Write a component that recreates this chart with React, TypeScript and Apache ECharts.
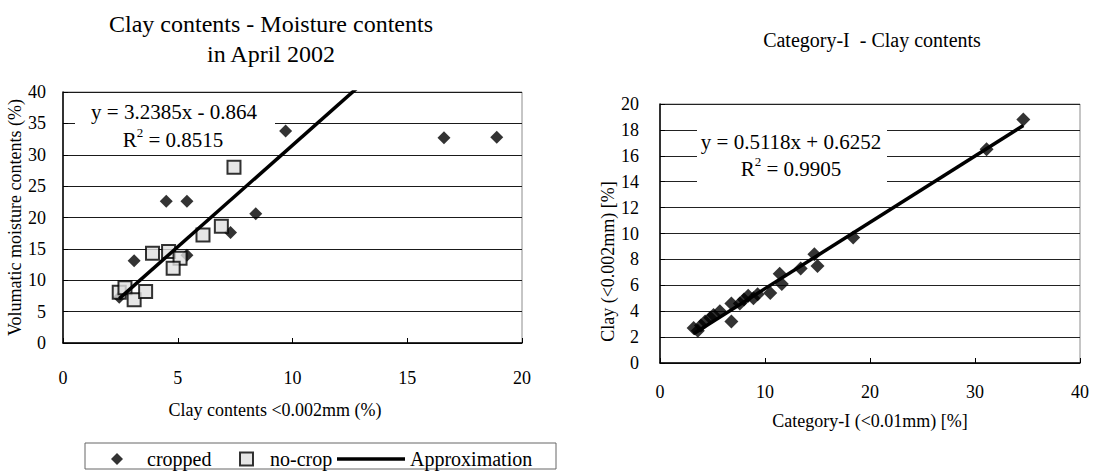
import React, { useEffect, useRef } from "react";
import * as echarts from "echarts";

// ---- Left chart data: clay contents (%) vs volumetric moisture (%) ----
const croppedClay = [9.7, 4.5, 5.4, 8.4, 7.3, 3.1, 5.4, 2.45, 16.6, 18.9];
const croppedMoisture = [33.8, 22.6, 22.6, 20.6, 17.6, 13.1, 14.0, 7.3, 32.7, 32.8];
const noCropClay = [7.45, 6.9, 6.1, 3.9, 4.6, 5.1, 4.8, 2.45, 2.7, 3.1, 3.6];
const noCropMoisture = [28.0, 18.6, 17.2, 14.3, 14.6, 13.5, 11.9, 8.1, 8.8, 6.9, 8.2];
const leftTrend = [3.2385, -0.864]; // slope, intercept
const leftR2 = "0.8515";

// ---- Right chart data: Category-I (<0.01mm) vs Clay (<0.002mm) ----
const categoryI = [3.2, 3.6, 3.9, 4.3, 4.8, 5.1, 5.7, 6.8, 6.8, 7.6, 8.0, 8.4, 8.9, 9.3, 10.5, 11.4, 11.6, 13.4, 14.7, 15.0, 18.4, 31.1, 34.6];
const clayFine = [2.7, 2.5, 2.9, 3.2, 3.5, 3.7, 4.0, 3.2, 4.6, 4.6, 4.9, 5.2, 5.0, 5.3, 5.4, 6.9, 6.1, 7.3, 8.4, 7.5, 9.7, 16.5, 18.8];
const rightTrend = [0.5118, 0.6252];
const rightR2 = "0.9905";

const leftTitle = ["Clay contents - Moisture contents", "in April 2002"];
const rightTitle = "Category-I  - Clay contents";

const FONT = "Liberation Serif";

function zip(a: number[], b: number[]) {
  return a.map((v, i) => [v, b[i]]);
}
function trendPoints(xs: number[], coef: number[]) {
  const lo = Math.min(...xs);
  const hi = Math.max(...xs);
  return [lo, hi].map((x) => [x, coef[0] * x + coef[1]]);
}
function eqText(coef: number[]) {
  const sign = coef[1] < 0 ? "-" : "+";
  return `y = ${coef[0]}x ${sign} ${Math.abs(coef[1])}`;
}

export default function App() {
  const ref = useRef<HTMLDivElement>(null);
  useEffect(() => {
    document.body.style.margin = "0";
    const chart = echarts.init(ref.current!, undefined, { renderer: "svg" });
    const txt = { fontFamily: FONT, color: "#000" };
    const axisCommon = {
      type: "value" as const,
      axisLine: { show: true, onZero: false, lineStyle: { color: "#000", width: 1.5 } },
      axisTick: { show: true, inside: true, length: 5, lineStyle: { color: "#000" } },
      axisLabel: { ...txt, fontSize: 18 },
      nameLocation: "middle" as const,
      nameTextStyle: { ...txt, fontSize: 18 },
    };
    const richR = {
      a: { fontFamily: FONT, fontSize: 21, color: "#000", lineHeight: 28 },
      s: { fontFamily: FONT, fontSize: 13, color: "#000", lineHeight: 13, verticalAlign: "top" },
    };
    const legendText = { ...txt, fontSize: 20 };
    chart.setOption({
      animation: false,
      textStyle: { fontFamily: FONT },
      title: [
        {
          text: leftTitle.join("\n"),
          left: 266,
          top: 4,
          textAlign: "center",
          textStyle: { ...txt, fontSize: 24, fontWeight: "normal", lineHeight: 30 },
        },
        {
          text: rightTitle,
          left: 867,
          top: 25,
          textAlign: "center",
          textStyle: { ...txt, fontSize: 20, fontWeight: "normal" },
        },
      ],
      grid: [
        { left: 63, top: 92, width: 459, height: 251, show: true, borderColor: "#8c8c8c", borderWidth: 1 },
        { left: 660, top: 104, width: 420, height: 259, show: true, borderColor: "#8c8c8c", borderWidth: 1 },
      ],
      xAxis: [
        {
          ...axisCommon,
          gridIndex: 0,
          min: 0,
          max: 20,
          interval: 5,
          splitLine: { show: false },
          axisLabel: { ...axisCommon.axisLabel, margin: 26 },
          name: "Clay contents <0.002mm (%)",
          nameGap: 58,
          nameTextStyle: { ...axisCommon.nameTextStyle, padding: [0, 35, 0, 0] },
        },
        {
          ...axisCommon,
          gridIndex: 1,
          min: 0,
          max: 40,
          interval: 10,
          splitLine: { show: false },
          axisLabel: { ...axisCommon.axisLabel, margin: 20 },
          name: "Category-I (<0.01mm) [%]",
          nameGap: 49,
        },
      ],
      yAxis: [
        {
          ...axisCommon,
          gridIndex: 0,
          min: 0,
          max: 40,
          interval: 5,
          splitLine: { show: true, lineStyle: { color: "#1a1a1a", width: 1 } },
          axisLabel: { ...axisCommon.axisLabel, margin: 17 },
          name: "Volumatic moisture contents (%)",
          nameGap: 27,
          nameRotate: 90,
        },
        {
          ...axisCommon,
          gridIndex: 1,
          min: 0,
          max: 20,
          interval: 2,
          splitLine: { show: true, lineStyle: { color: "#222", width: 1 } },
          axisLabel: { ...axisCommon.axisLabel, margin: 21 },
          name: "Clay (<0.002mm) [%]",
          nameGap: 40,
          nameRotate: 90,
          nameTextStyle: { ...axisCommon.nameTextStyle, padding: [0, 56, 0, 0] },
        },
      ],
      legend: [
        {
          data: [{ name: "cropped", icon: "diamond" }],
          left: 106,
          top: 444,
          itemWidth: 12,
          itemHeight: 12,
          selectedMode: false,
          textStyle: { ...legendText, padding: [0, 0, 0, 19] },
        },
        {
          data: [{ name: "no-crop", icon: "rect" }],
          left: 234,
          top: 444,
          itemWidth: 13,
          itemHeight: 13,
          selectedMode: false,
          textStyle: { ...legendText, padding: [0, 0, 0, 12] },
        },
        {
          data: [{ name: "Approximation", icon: "rect" }],
          left: 332,
          top: 444,
          itemWidth: 68,
          itemHeight: 3.5,
          selectedMode: false,
          textStyle: legendText,
        },
      ],
      graphic: [
        {
          type: "rect",
          shape: { x: 85, y: 443, width: 471, height: 26 },
          style: { fill: "none", stroke: "#666", lineWidth: 1 },
        },
        {
          type: "rect",
          z: 5,
          shape: { x: 75, y: 97, width: 200, height: 55 },
          style: { fill: "#fff" },
        },
        {
          type: "text",
          z: 6,
          x: 174,
          y: 112,
          style: { text: eqText(leftTrend), fontFamily: FONT, fontSize: 21, fill: "#000", align: "center", verticalAlign: "middle" },
        },
        {
          type: "text",
          z: 6,
          x: 173,
          y: 140,
          style: { text: `{a|R}{s|2}{a| = ${leftR2}}`, rich: richR, align: "center", verticalAlign: "middle" },
        },
        {
          type: "rect",
          z: 5,
          shape: { x: 697, y: 121, width: 190, height: 70 },
          style: { fill: "#fff" },
        },
        {
          type: "text",
          z: 6,
          x: 791,
          y: 142,
          style: { text: eqText(rightTrend), fontFamily: FONT, fontSize: 21, fill: "#000", align: "center", verticalAlign: "middle" },
        },
        {
          type: "text",
          z: 6,
          x: 791,
          y: 169,
          style: { text: `{a|R}{s|2}{a| = ${rightR2}}`, rich: richR, align: "center", verticalAlign: "middle" },
        },
      ],
      series: [
        {
          name: "cropped",
          type: "scatter",
          xAxisIndex: 0,
          yAxisIndex: 0,
          symbol: "diamond",
          symbolSize: 13,
          itemStyle: { color: "#000" },
          data: zip(croppedClay, croppedMoisture),
          z: 2,
        },
        {
          name: "no-crop",
          type: "scatter",
          xAxisIndex: 0,
          yAxisIndex: 0,
          symbol: "rect",
          symbolSize: 13,
          itemStyle: { color: "#e0e0e0", borderColor: "#000", borderWidth: 2 },
          data: zip(noCropClay, noCropMoisture),
          z: 3,
        },
        {
          name: "Approximation",
          type: "line",
          xAxisIndex: 0,
          yAxisIndex: 0,
          symbol: "none",
          clip: true,
          lineStyle: { color: "#000", width: 3.5 },
          itemStyle: { color: "#000" },
          data: trendPoints([...croppedClay, ...noCropClay], leftTrend),
          z: 4,
        },
        {
          name: "Category-I vs Clay",
          type: "scatter",
          xAxisIndex: 1,
          yAxisIndex: 1,
          symbol: "diamond",
          symbolSize: 14,
          itemStyle: { color: "#000" },
          data: zip(categoryI, clayFine),
          z: 2,
        },
        {
          name: "Category-I trend",
          type: "line",
          xAxisIndex: 1,
          yAxisIndex: 1,
          symbol: "none",
          clip: true,
          lineStyle: { color: "#000", width: 3.5 },
          data: trendPoints(categoryI, rightTrend),
          z: 4,
        },
      ],
    });
    return () => chart.dispose();
  }, []);
  return (
    <div
      ref={ref}
      style={{ position: "absolute", left: 0, top: 0, width: 1093, height: 471, background: "#fff" }}
    />
  );
}
